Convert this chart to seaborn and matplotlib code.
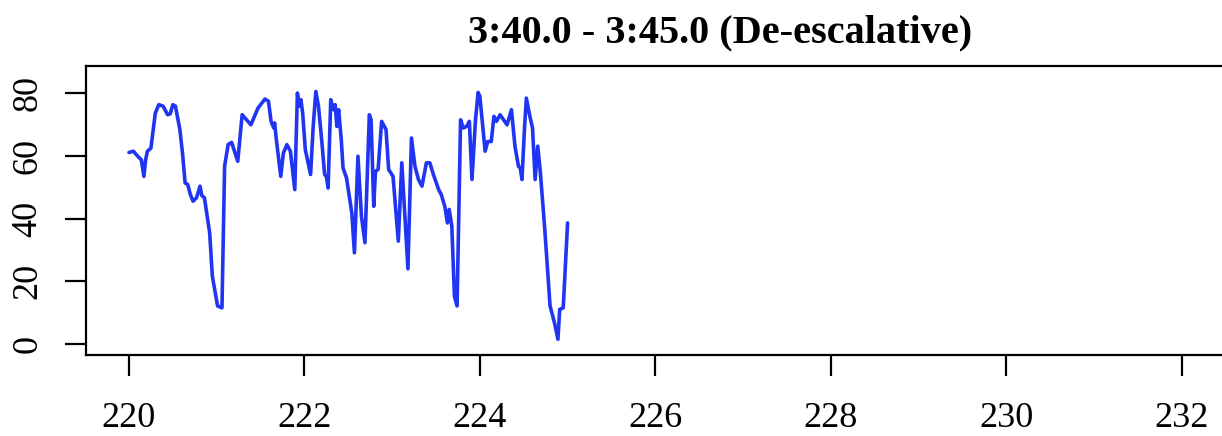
import pandas as pd
import matplotlib
matplotlib.use("Agg")
import matplotlib.pyplot as plt
import seaborn as sns

# time (s) and value
time = [220.00, 220.05, 220.10, 220.14, 220.17, 220.19, 220.21, 220.25, 220.30, 220.34,
        220.39, 220.44, 220.47, 220.50, 220.53, 220.58, 220.61, 220.64, 220.67, 220.70,
        220.73, 220.77, 220.81, 220.83, 220.86, 220.92, 220.95, 221.01, 221.06, 221.09,
        221.13, 221.17, 221.24, 221.29, 221.34, 221.39, 221.47, 221.55, 221.59, 221.62,
        221.65, 221.66, 221.68, 221.73, 221.76, 221.80, 221.84, 221.89, 221.92, 221.94,
        221.96, 221.98, 222.01, 222.07, 222.10, 222.13, 222.16, 222.20, 222.23, 222.25,
        222.27, 222.30, 222.33, 222.35, 222.37, 222.39, 222.42, 222.44, 222.48, 222.54,
        222.57, 222.61, 222.65, 222.69, 222.74, 222.76, 222.79, 222.81, 222.84, 222.88,
        222.93, 222.96, 223.01, 223.07, 223.11, 223.18, 223.22, 223.26, 223.30, 223.34,
        223.39, 223.43, 223.47, 223.53, 223.56, 223.60, 223.63, 223.65, 223.68, 223.71,
        223.74, 223.78, 223.81, 223.85, 223.88, 223.91, 223.95, 223.98, 224.00, 224.06,
        224.09, 224.13, 224.16, 224.19, 224.23, 224.27, 224.31, 224.36, 224.40, 224.44,
        224.46, 224.48, 224.51, 224.53, 224.57, 224.60, 224.63, 224.66, 224.69, 224.74,
        224.80, 224.85, 224.89, 224.91, 224.95, 225.00]
value = [61.0, 61.4, 59.8, 58.7, 53.4, 58.7, 61.4, 62.4, 73.5, 76.2,
         75.7, 73.0, 73.3, 76.2, 75.7, 68.3, 60.8, 51.3, 50.8, 47.6,
         45.5, 46.6, 50.3, 47.3, 46.6, 35.4, 21.7, 12.2, 11.6, 56.6,
         63.5, 64.2, 58.2, 73.0, 71.4, 69.8, 75.1, 78.0, 77.3, 70.9,
         68.8, 70.4, 65.1, 53.4, 60.8, 63.5, 61.4, 49.2, 79.9, 75.7,
         77.8, 73.5, 61.9, 54.0, 69.3, 80.4, 75.7, 64.0, 54.0, 53.4,
         49.7, 77.8, 74.6, 76.2, 69.3, 74.6, 65.1, 56.1, 52.9, 41.8,
         29.1, 59.8, 40.7, 32.3, 73.0, 71.4, 43.9, 55.0, 55.6, 70.9,
         68.3, 55.6, 53.4, 32.8, 57.7, 24.0, 65.6, 56.6, 52.4, 50.3,
         57.7, 57.7, 54.0, 49.2, 47.6, 43.9, 38.6, 42.9, 37.6, 15.3,
         12.2, 71.4, 68.8, 69.3, 70.9, 52.4, 71.4, 80.1, 78.8, 61.4,
         64.5, 64.5, 72.5, 70.9, 73.0, 71.4, 69.8, 74.6, 63.0, 56.6,
         56.1, 52.4, 69.3, 78.3, 72.5, 68.8, 52.4, 63.0, 54.5, 36.5,
         12.2, 6.9, 1.6, 11.1, 11.6, 38.6]
xticks = [220, 222, 224, 226, 228, 230, 232]
yticks = [0, 20, 40, 60, 80]
title = "3:40.0 - 3:45.0 (De-escalative)"

sns.set_style("white")
plt.rcParams['font.family'] = ['Liberation Serif', 'DejaVu Serif']

df = pd.DataFrame({"t": time, "v": value})

fig = plt.figure(figsize=(12.22, 4.36), dpi=100)
ax = fig.add_axes([86 / 1222, 81 / 436, 1136 / 1222, 289 / 436])
sns.lineplot(data=df, x="t", y="v", ax=ax, color="#1f35f2", linewidth=2.6,
             sort=False, estimator=None)

ax.set_xlim(219.51, 232.46)
ax.set_ylim(-3.4, 88.5)
ax.set_xticks(xticks)
ax.set_yticks(yticks)
ax.set_xlabel("")
ax.set_ylabel("")
for s in ["left", "bottom", "top"]:
    ax.spines[s].set_color("black")
    ax.spines[s].set_linewidth(1.6)
ax.spines["right"].set_visible(False)
ax.tick_params(axis="both", which="major", direction="out", length=15, width=1.6,
               color="black", labelsize=26, labelcolor="black", bottom=True, left=True)
ax.tick_params(axis="x", pad=19)
ax.tick_params(axis="y", pad=15)
for lab in ax.get_yticklabels():
    lab.set_rotation(90)
    lab.set_va("center")

fig.text(720 / 1222, 1 - 33 / 436, title, ha="center", va="center",
         fontsize=29, fontweight="bold", color="black")

fig.savefig("out.png", dpi=100)
